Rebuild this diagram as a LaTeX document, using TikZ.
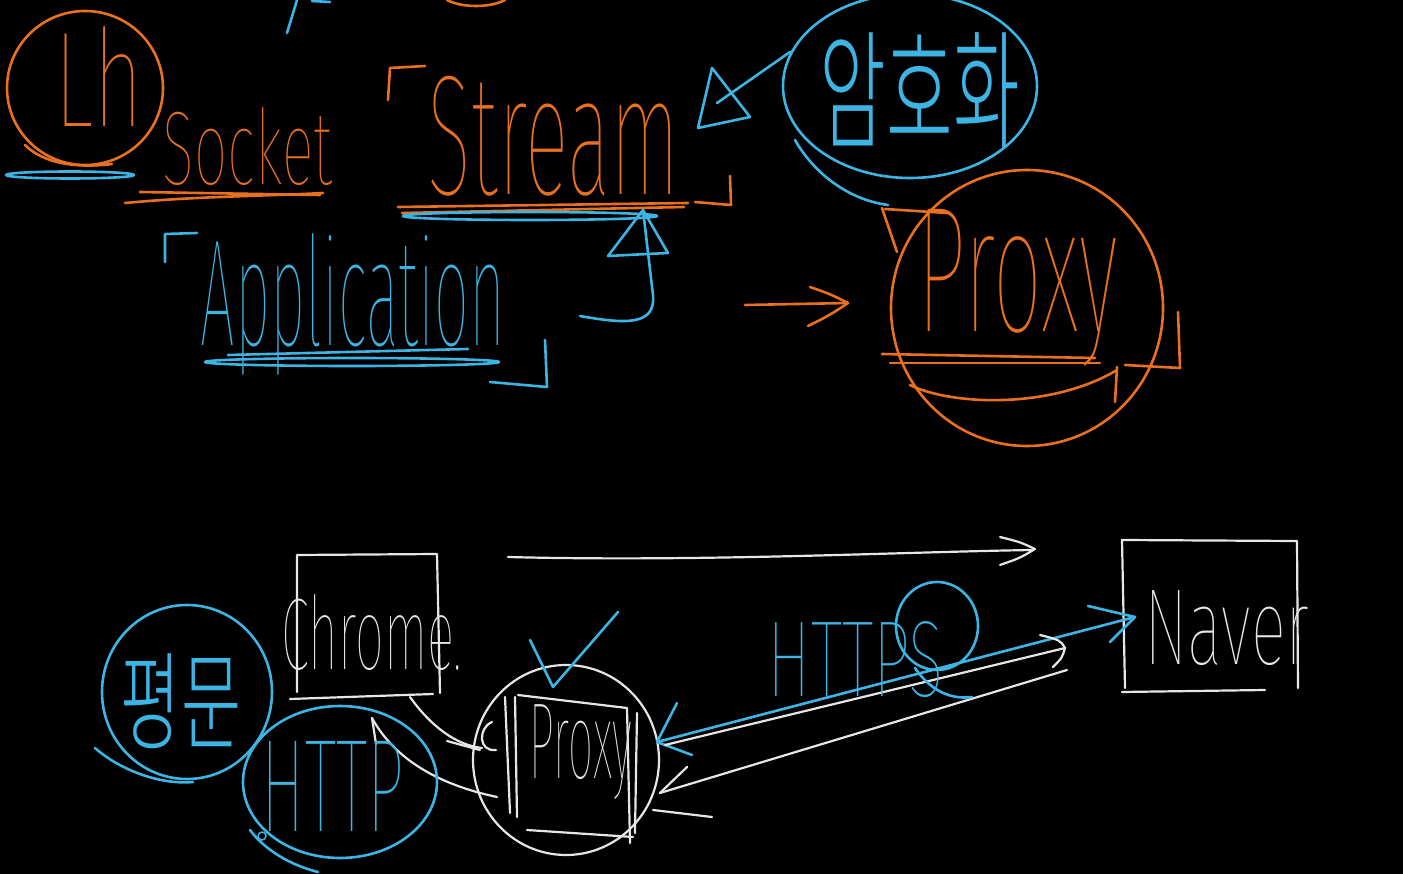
\documentclass[tikz,border=0pt]{standalone}
\usepackage{fontspec}
\usepackage{graphicx}
\IfFontExistsTF{Fira Sans Thin}{\newfontfamily\hand{Fira Sans Thin}}{\IfFontExistsTF{Fira Sans Light}{\newfontfamily\hand{Fira Sans Light}}{\newfontfamily\hand{Fira Sans}}}
\IfFontExistsTF{Noto Sans CJK KR Light}{\newfontfamily\kor{Noto Sans CJK KR Light}}{\IfFontExistsTF{Noto Sans CJK KR DemiLight}{\newfontfamily\kor{Noto Sans CJK KR DemiLight}}{\newfontfamily\kor{Noto Sans CJK KR}}}
\definecolor{orng}{HTML}{E8701F}
\definecolor{cyn}{HTML}{3CB5E5}
\definecolor{wht}{HTML}{E6E6E6}
\newcommand\hw[3]{\resizebox*{#1pt}{#2pt}{#3}}
\newcommand\hwb[3]{\resizebox{#1pt}{#2pt}{#3}}
\begin{document}
\begin{tikzpicture}[x=1pt,y=-1pt,line cap=round,line join=round,
  opn/.style={draw=orng,line width=2.6pt},
  cpn/.style={draw=cyn,line width=2.6pt},
  wpn/.style={draw=wht,line width=2.2pt},
  lbl/.style={inner sep=0pt,outer sep=0pt}]
\fill[black] (0,0) rectangle (1403,874);
\useasboundingbox (0,0) rectangle (1403,874);

% ---------- top partial strokes ----------
\draw[cpn] (287,33) -- (297,0);
\draw[cpn] (312,1) -- (330,2);
\draw[opn] (447,0) .. controls (462,8) and (490,8) .. (505,0);

% ---------- Lh circle ----------
\coordinate (lhc) at (85,88);
\draw[opn] (lhc) ellipse [x radius=78pt,y radius=77pt];
\draw[opn] (25,145) .. controls (45,165) and (80,168) .. (112,164);
\node[lbl,text=orng] (lh) at (99,76) {\hw{88}{100}{\hand Lh}};
\draw[cpn] (70,175) ellipse [x radius=64pt,y radius=3.5pt];

% ---------- Socket ----------
\node[lbl,text=orng] (socket) at (248,147) {\hw{170}{78}{\hand Socket}};
\draw[opn] (125,203) .. controls (200,196) and (270,196) .. (323,193);
\draw[opn] (140,192) -- (320,195);

% ---------- Stream ----------
\draw[opn] (388,100) -- (390,68) -- (425,66);
\node[lbl,text=orng] (stream) at (554,136) {\hw{252}{120}{\hand Stream}};
\draw[opn] (730,176) -- (731,205) -- (695,202);
\draw[opn] (398,207) -- (688,203);
\draw[opn] (402,213) -- (684,207);
\draw[cpn] (530,216) ellipse [x radius=127pt,y radius=4pt];

% blue arrow up into Stream
\coordinate (upA) at (643,210);
\draw[cpn] (upA) -- (608,256) -- (668,253) -- cycle;
\draw[cpn] (580,316) .. controls (625,324) and (656,326) .. (653,295) -- (upA);

% blue arrow from encryption toward Stream
\coordinate (encL) at (790,52);
\coordinate (encT) at (717,103);
\draw[cpn] (712,68) -- (698,128) -- (750,117) -- cycle;
\draw[cpn] (encL) -- (encT);

% ---------- encryption circle ----------
\coordinate (encc) at (910,86);
\draw[cpn] (encc) ellipse [x radius=127pt,y radius=92pt];
\draw[cpn] (795,140) .. controls (815,175) and (850,200) .. (888,205);
\node[lbl,text=cyn] (enc) at (920,90) {\hw{200}{115}{\kor 암호화}};

% ---------- orange Proxy ----------
\coordinate (pxc) at (1027,308);
\draw[opn] (pxc) ellipse [x radius=136pt,y radius=138pt];
\draw[opn] (910,385) .. controls (950,405) and (1050,410) .. (1117,370);
\draw[opn] (1117,367) -- (1115,402);
\node[lbl,text=orng] (proxyT) at (1018,288) {\hw{200}{157}{\hand Proxy}};
\draw[opn] (897,252) -- (882,208);
\draw[opn] (885,209) -- (947,213);
\draw[opn] (1178,312) -- (1180,368) -- (1125,365);
\draw[opn] (882,354) -- (1095,358);
\draw[opn] (890,363) -- (1100,363);

% orange arrow
\coordinate (oa1) at (745,305);
\coordinate (oa2) at (848,303);
\draw[opn] (oa1) -- (oa2);
\draw[opn] (810,287) .. controls (830,294) .. (oa2) .. controls (830,315) .. (808,326);

% ---------- Application ----------
\draw[cpn] (165,262) -- (165,234) -- (197,233);
\node[lbl,text=cyn,anchor=base] (app) at (353,346) {\hwb{304}{112}{\hand Application}};
\draw[cpn] (545,340) -- (547,387) -- (490,382);
\draw[cpn] (228,355) -- (468,349);
\draw[cpn] (352,362) ellipse [x radius=147pt,y radius=4pt];

% ---------- bottom: Chrome ----------
\draw[wpn] (297,692) -- (297,555) -- (437,554) -- (440,693);
\draw[wpn] (290,699) -- (433,694);
\node[lbl,text=wht] (chrome) at (372,632) {\hw{180}{76}{\hand Chrome.}};

% long white arrow
\coordinate (la1) at (508,557);
\coordinate (la2) at (1033,550);
\draw[wpn] (la1) .. controls (700,562) and (900,552) .. (la2);
\draw[wpn] (1000,537) .. controls (1020,542) .. (1035,549) .. controls (1020,558) .. (1000,565);

% ---------- Naver ----------
\draw[wpn] (1125,688) -- (1122,540) -- (1297,541) -- (1298,688);
\draw[wpn] (1122,692) -- (1265,690);
\node[lbl,text=wht] (naver) at (1227,628) {\hw{165}{75}{\hand Naver}};

% ---------- white Proxy ----------
\coordinate (wpc) at (566,760);
\draw[wpn] (wpc) ellipse [x radius=93pt,y radius=95pt];
\draw[wpn] (505,697) -- (510,813);
\draw[wpn] (515,697) -- (517,817);
\draw[wpn] (518,695) -- (627,708) -- (630,843);
\draw[wpn] (637,713) -- (635,833);
\draw[wpn] (527,830) -- (633,837);
\node[lbl,text=wht] (proxyW) at (581,752) {\hw{102}{95}{\hand Proxy}};

% check mark
\draw[cpn] (530,640) -- (553,687) -- (618,612);

% Chrome -> Proxy
\coordinate (cb) at (410,697);
\coordinate (pl) at (482,748);
\draw[wpn] (cb) .. controls (430,725) and (455,745) .. (pl);
\draw[wpn] (447,741) -- (480,750);
\draw[wpn] (492,722) .. controls (478,728) and (478,752) .. (496,750);

% Proxy -> Chrome
\coordinate (pb) at (497,797);
\coordinate (ct) at (372,718);
\draw[wpn] (pb) .. controls (440,785) and (395,760) .. (ct);
\draw[wpn] (ct) -- (376,744);

% cyan Proxy <-> Naver
\coordinate (cpL) at (657,742);
\coordinate (cpR) at (1135,617);
\draw[cpn] (cpL) -- (cpR);
\draw[cpn] (677,703) -- (cpL) -- (692,755);
\draw[cpn] (1088,606) -- (cpR) -- (1110,642);

% white Proxy -> Naver (upper)
\coordinate (wu1) at (665,745);
\coordinate (wu2) at (1065,648);
\draw[wpn] (wu1) -- (wu2);
\draw[wpn] (1040,635) .. controls (1060,640) .. (wu2) .. controls (1062,658) .. (1053,667);

% white Naver -> Proxy (lower)
\coordinate (wl1) at (1067,670);
\coordinate (wl2) at (660,793);
\draw[wpn] (wl1) -- (wl2);
\draw[wpn] (687,767) -- (wl2);
\draw[wpn] (653,810) -- (712,817);

% HTTPS
\node[lbl,text=cyn] (https) at (856,660) {\hw{176}{76}{\hand HTTPS}};
\draw[cpn] (937,626) ellipse [x radius=41pt,y radius=44pt];
\draw[cpn] (915,668) .. controls (930,690) and (950,700) .. (972,697);

% ---------- plaintext circle ----------
\coordinate (pmc) at (187,692);
\draw[cpn] (pmc) ellipse [x radius=85pt,y radius=87pt];
\draw[cpn] (95,748) .. controls (120,770) and (160,785) .. (193,782);
\node[lbl,text=cyn] (pm) at (181,701) {\hw{120}{95}{\kor 평문}};

% ---------- HTTP circle ----------
\coordinate (htc) at (340,782);
\draw[cpn] (htc) ellipse [x radius=97pt,y radius=76pt];
\draw[cpn] (250,830) .. controls (265,850) and (290,865) .. (318,872);
\node[lbl,text=cyn] (http) at (333,786) {\hw{142}{90}{\hand HTTP}};
\draw[cyn,line width=1.5pt] (262,836) circle [radius=4pt];
\end{tikzpicture}
\end{document}
